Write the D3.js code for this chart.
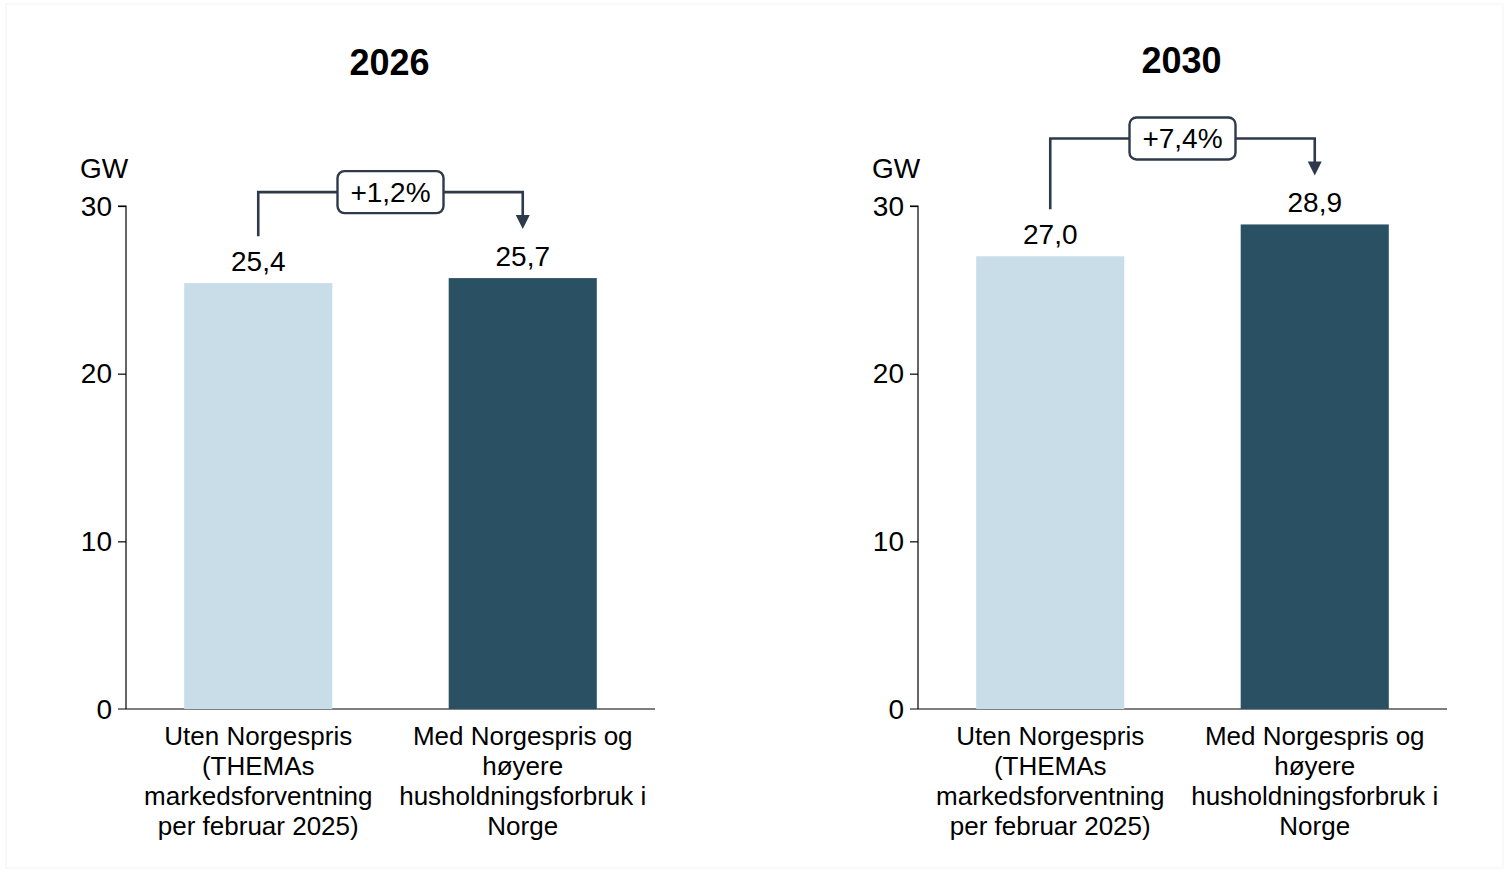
<!DOCTYPE html>
<html><head><meta charset="utf-8">
<script src="https://cdn.jsdelivr.net/npm/d3@7"></script>
<style>body{margin:0;background:#fff;}svg{display:block;font-family:"Liberation Sans",Arial,sans-serif;}</style>
</head><body>
<svg id="c" width="1509" height="872"></svg>
<script>
const years = ["2026", "2030"];
const categories = [
  ["Uten Norgespris", "(THEMAs", "markedsforventning", "per februar 2025)"],
  ["Med Norgespris og", "høyere", "husholdningsforbruk i", "Norge"]
];
const values2026 = [25.4, 25.7];
const values2030 = [27.0, 28.9];
const changes = ["+1,2%", "+7,4%"];
const yTicks = [0, 10, 20, 30];
const unit = "GW";
const colors = ["#c9dde8", "#2a5064"];

const svg = d3.select("#c");
svg.append("rect").attr("x",6).attr("y",4).attr("width",1497).attr("height",864)
  .attr("fill","none").attr("stroke","#f3f3f3").attr("stroke-width",1);

const panels = [
  {year: years[0], vals: values2026, change: changes[0], x0: 126, x1: 655, titleY: 75},
  {year: years[1], vals: values2030, change: changes[1], x0: 918, x1: 1447, titleY: 73}
];
const fmt = v => v.toFixed(1).replace(".", ",");
const ink = "#2e3a4b";

panels.forEach(p => {
  const y = d3.scaleLinear().domain([0, 30]).range([709, 206]);
  const x = d3.scaleBand().domain([0, 1]).range([p.x0, p.x1]).paddingInner(0.44).paddingOuter(0.22);
  const g = svg.append("g");

  g.append("text").attr("x", (p.x0 + p.x1) / 2 - 1).attr("y", p.titleY)
    .attr("text-anchor", "middle").attr("font-size", 36).attr("font-weight", "bold").text(p.year);

  // y axis
  const ya = g.append("g").attr("transform", `translate(${p.x0},0)`)
    .call(d3.axisLeft(y).tickValues(yTicks).tickSize(8).tickPadding(6));
  ya.select(".domain").attr("d", `M-8,${y(30)}H0V${y(0)}`).attr("stroke", "#000").attr("stroke-width", 1.2);
  ya.selectAll(".tick line").attr("stroke", "#000").attr("stroke-width", 1.2);
  ya.selectAll(".tick text").attr("font-size", 28).attr("fill", "#000").attr("font-family", "Liberation Sans, Arial, sans-serif").attr("dy", "0.33em");
  ya.selectAll(".tick").filter(d => d === 0).select("line").remove();

  // x axis line
  g.append("line").attr("x1", p.x0 - 8).attr("x2", p.x1).attr("y1", y(0)).attr("y2", y(0))
    .attr("stroke", "#000").attr("stroke-width", 1.2);

  g.append("text").attr("x", p.x0 - 46).attr("y", y(30) - 28).attr("font-size", 28).text(unit);

  // bars
  g.selectAll("rect.bar").data(p.vals).join("rect").attr("class", "bar")
    .attr("x", (d, i) => x(i)).attr("width", x.bandwidth())
    .attr("y", d => y(d)).attr("height", d => y(0) - y(d))
    .attr("fill", (d, i) => colors[i]);

  g.selectAll("text.val").data(p.vals).join("text").attr("class", "val")
    .attr("x", (d, i) => x(i) + x.bandwidth() / 2).attr("y", d => y(d) - 12)
    .attr("text-anchor", "middle").attr("font-size", 28).text(fmt);

  // category labels
  categories.forEach((lines, i) => {
    const t = g.append("text").attr("text-anchor", "middle").attr("font-size", 26);
    lines.forEach((l, k) => t.append("tspan").attr("x", x(i) + x.bandwidth() / 2).attr("y", 745 + k * 30).text(l));
  });

  // bracket annotation
  const cx0 = x(0) + x.bandwidth() / 2, cx1 = x(1) + x.bandwidth() / 2;
  const hy = y(d3.max(p.vals)) - 86;
  const sy = y(p.vals[0]) - 47;
  const ty = y(p.vals[1]) - 49;
  g.append("path").attr("d", `M${cx0},${sy}V${hy}H${cx1}V${ty - 12}`)
    .attr("fill", "none").attr("stroke", ink).attr("stroke-width", 2.6);
  g.append("path").attr("d", `M${cx1 - 7},${ty - 14}L${cx1 + 7},${ty - 14}L${cx1},${ty}Z`).attr("fill", ink);
  const bx = (cx0 + cx1) / 2;
  g.append("rect").attr("x", bx - 53).attr("y", hy - 21).attr("width", 106).attr("height", 42)
    .attr("rx", 7).attr("fill", "#fff").attr("stroke", ink).attr("stroke-width", 2.4);
  g.append("text").attr("x", bx).attr("y", hy + 10).attr("text-anchor", "middle").attr("font-size", 28).text(p.change);
});
</script>
</body></html>
